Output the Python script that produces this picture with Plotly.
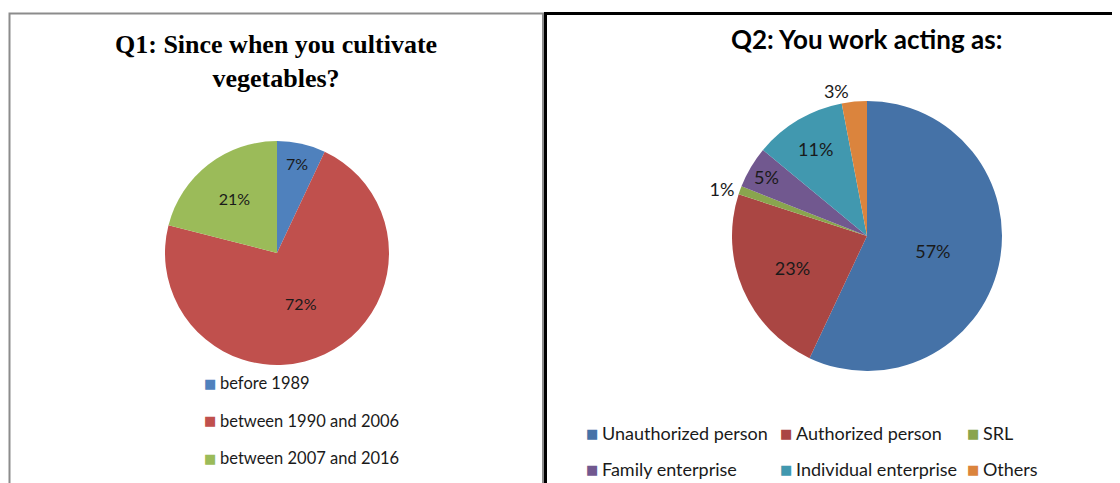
import plotly.graph_objects as go

# Q1 data
q1_labels = ["before 1989", "between 1990 and 2006", "between 2007 and 2016"]
q1_values = [7, 72, 21]
q1_colors = ["#4F81BD", "#C0504D", "#9BBB59"]

# Q2 data
q2_labels = ["Unauthorized person", "Authorized person", "SRL",
             "Family enterprise", "Individual enterprise", "Others"]
q2_values = [57, 23, 1, 5, 11, 3]
q2_colors = ["#4572A7", "#AA4643", "#89A54E", "#71588F", "#4198AF", "#DB843D"]
q2_textpos = ["inside", "inside", "outside", "inside", "inside", "outside"]

W, H = 1120, 483
OFF = 8  # page body margin
FONT = "Lato, Open Sans, sans-serif"


def px(x):
    return (x - OFF) / W


def py(y):
    return 1 - (y - OFF) / H


fig = go.Figure()

# left pie: center (277, 253), r 112 (screen px)
fig.add_trace(go.Pie(
    labels=q1_labels,
    values=q1_values,
    marker=dict(colors=q1_colors, line=dict(width=0)),
    sort=False, direction="clockwise", rotation=0,
    texttemplate="%{value}%",
    textposition="inside", insidetextorientation="horizontal",
    textfont=dict(family=FONT, size=16, color="#1a1a1a"),
    domain=dict(x=[px(277 - 112), px(277 + 112)],
                y=[py(253 + 112), py(253 - 112)]),
    hoverinfo="label+percent",
))

# right pie: center (867, 236), r 135
fig.add_trace(go.Pie(
    labels=q2_labels,
    values=q2_values,
    marker=dict(colors=q2_colors, line=dict(width=0)),
    sort=False, direction="clockwise", rotation=0,
    texttemplate="%{value}%",
    textposition=q2_textpos, insidetextorientation="horizontal",
    textfont=dict(family=FONT, size=18, color="#1a1a1a"),
    domain=dict(x=[px(867 - 135), px(867 + 135)],
                y=[py(236 + 135), py(236 - 135)]),
    hoverinfo="label+percent",
))

fig.update_layout(
    width=W, height=H,
    margin=dict(l=0, r=0, t=0, b=0),
    paper_bgcolor="white",
    plot_bgcolor="white",
    showlegend=False,
)


def legend_item(xs, xt, y, color, label, size):
    # square marker + label
    fig.add_annotation(x=px(xs), y=py(y), xref="paper", yref="paper",
                       text="■", showarrow=False, xanchor="left", yanchor="middle",
                       font=dict(family="DejaVu Sans", size=13, color=color))
    fig.add_annotation(x=px(xt), y=py(y), xref="paper", yref="paper",
                       text=label, showarrow=False, xanchor="left", yanchor="middle",
                       font=dict(family=FONT, size=size, color="#1a1a1a"))


# left legend (vertical)
for i, (lab, col) in enumerate(zip(q1_labels, q1_colors)):
    legend_item(202, 218, 383 + i * 37.5, col, lab, 16.5)

# right legend (two rows, three columns)
col_sq = [584, 778, 965]
col_tx = [600, 794, 981]
for i, (lab, col) in enumerate(zip(q2_labels, q2_colors)):
    r, c = divmod(i, 3)
    legend_item(col_sq[c], col_tx[c], 433 + r * 36, col, lab, 18)

# titles
fig.add_annotation(
    x=px(276), y=py(62), xref="paper", yref="paper",
    text="<b>Q1: Since when you cultivate<br>vegetables?</b>",
    showarrow=False, align="center", xanchor="center", yanchor="middle",
    font=dict(family="Liberation Serif, Times New Roman, serif", size=26, color="black"),
)
fig.add_annotation(
    x=px(866), y=py(39), xref="paper", yref="paper",
    text="<b>Q2: You work acting as:</b>",
    showarrow=False, xanchor="center", yanchor="middle",
    font=dict(family=FONT, size=26, color="black"),
)

# panel borders
fig.add_shape(type="rect", xref="paper", yref="paper",
              x0=px(9.5), x1=px(543), y0=-0.05, y1=py(13.5),
              line=dict(color="#8c8c8c", width=2))
fig.add_shape(type="rect", xref="paper", yref="paper",
              x0=px(545.5), x1=1.05, y0=-0.05, y1=py(13.5),
              line=dict(color="black", width=3))

fig.write_html("out.html")
